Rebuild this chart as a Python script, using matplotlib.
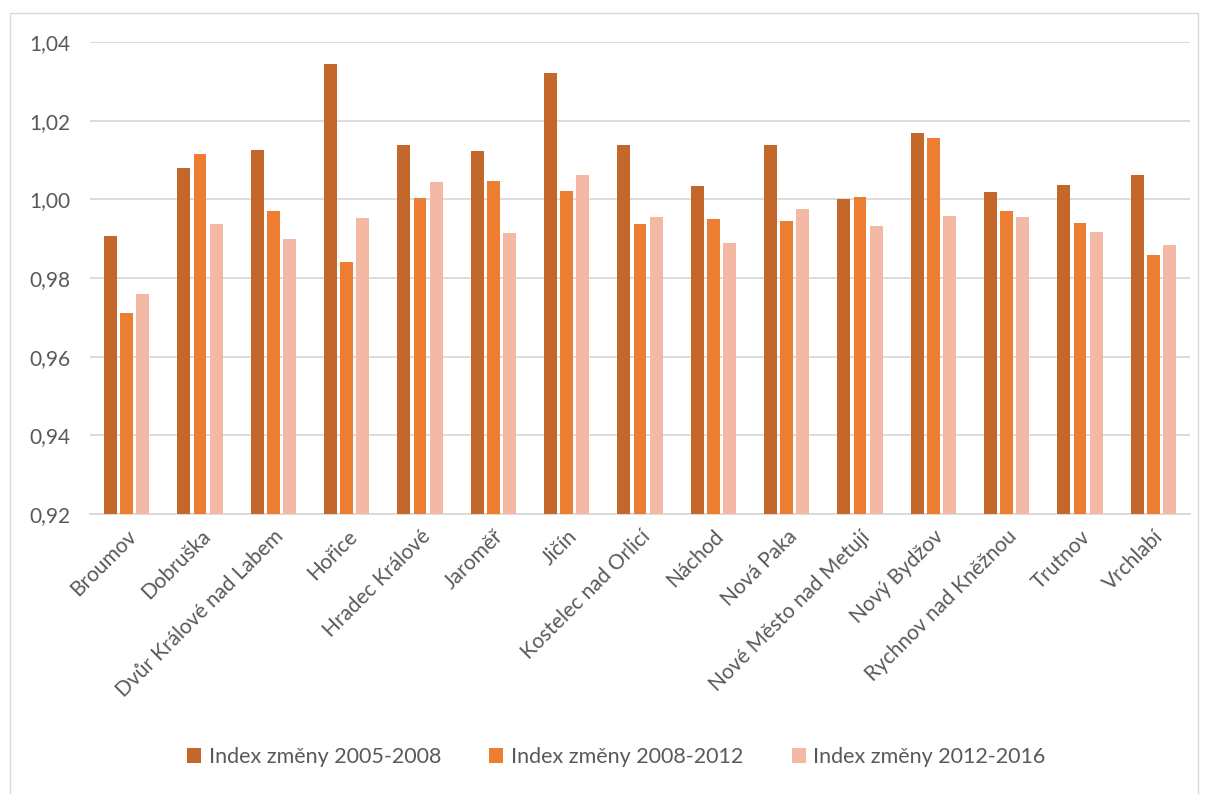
import numpy as np
import matplotlib.pyplot as plt
from matplotlib.patches import Rectangle
from matplotlib.ticker import FuncFormatter

plt.rcParams['font.family'] = ['Lato', 'DejaVu Sans']

mesta = ["Broumov", "Dobruška", "Dvůr Králové nad Labem", "Hořice", "Hradec Králové",
         "Jaroměř", "Jičín", "Kostelec nad Orlicí", "Náchod", "Nová Paka",
         "Nové Město nad Metují", "Nový Bydžov", "Rychnov nad Kněžnou", "Trutnov", "Vrchlabí"]
idx_2005_2008 = [0.9908, 1.0080, 1.0125, 1.0345, 1.0139, 1.0123, 1.0321, 1.0137, 1.0035, 1.0137,
                 1.0000, 1.0169, 1.0018, 1.0037, 1.0063]
idx_2008_2012 = [0.9710, 1.0115, 0.9970, 0.9840, 1.0003, 1.0046, 1.0022, 0.9937, 0.9950, 0.9946,
                 1.0007, 1.0155, 0.9970, 0.9940, 0.9858]
idx_2012_2016 = [0.9759, 0.9937, 0.9899, 0.9953, 1.0045, 0.9915, 1.0062, 0.9954, 0.9888, 0.9976,
                 0.9932, 0.9957, 0.9955, 0.9916, 0.9883]
serie = ["Index změny 2005-2008", "Index změny 2008-2012", "Index změny 2012-2016"]
barvy = ["#C4672A", "#ED7D31", "#F4B9A5"]

fig = plt.figure(figsize=(12.06, 7.94), dpi=100)
ax = fig.add_axes([90 / 1206, 1 - 514 / 794, 1100 / 1206, 472 / 794])

x = np.arange(len(mesta))
w = 0.175
for i, (vals, name, c) in enumerate(zip([idx_2005_2008, idx_2008_2012, idx_2012_2016], serie, barvy)):
    ax.bar(x + (i - 1) * 0.22, np.array(vals) - 0.92, width=w, bottom=0.92, color=c,
           label=name, zorder=3)

ax.set_xlim(-0.5, len(mesta) - 0.5)
ax.set_ylim(0.92, 1.04)
ax.set_yticks(np.arange(0.92, 1.0401, 0.02))
ax.yaxis.set_major_formatter(FuncFormatter(lambda v, p: f"{v:.2f}".replace(".", ",")))
ax.grid(axis='y', color='#D9D9D9', linewidth=1.3, zorder=0)
for s in ['top', 'right', 'left']:
    ax.spines[s].set_visible(False)
ax.spines['bottom'].set_color('#D9D9D9')
ax.spines['bottom'].set_linewidth(1.3)
ax.tick_params(axis='both', length=0, labelsize=15, colors='#595959')
ax.tick_params(axis='y', pad=14)
ax.tick_params(axis='x', pad=9)
ax.set_xticks(x)
ax.set_xticklabels(mesta, rotation=45, ha='right', rotation_mode='anchor')

leg = fig.legend(loc='center', bbox_to_anchor=(0.511, 1 - 757 / 794), ncol=3, frameon=False,
                 fontsize=15.5, handlelength=0.65, handleheight=0.65, columnspacing=2.25,
                 handletextpad=0.35)
for t in leg.get_texts():
    t.set_color('#595959')

fig.patches.append(Rectangle((10 / 1206, -0.01), 1188 / 1206, 1 - 13 / 794 + 0.01,
                             transform=fig.transFigure, fill=False, edgecolor='#D9D9D9',
                             linewidth=1))

fig.savefig("out.png", dpi=100)
